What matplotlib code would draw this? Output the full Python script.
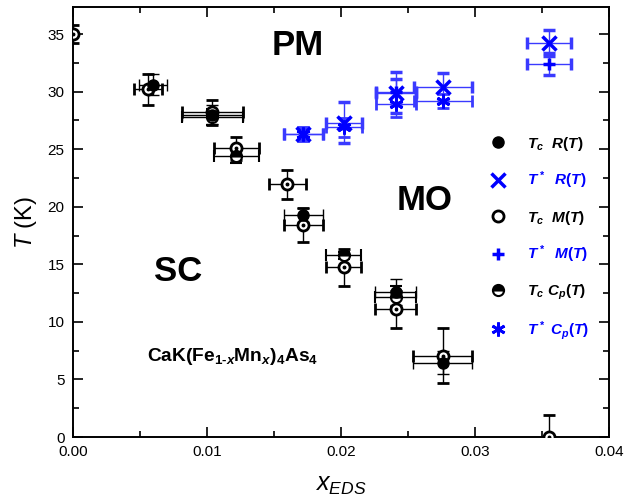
import matplotlib
matplotlib.use("Agg")
import matplotlib.pyplot as plt
from matplotlib.lines import Line2D
from matplotlib.ticker import MultipleLocator

plt.rcParams["font.family"] = "Liberation Sans"
plt.rcParams["mathtext.fontset"] = "custom"
plt.rcParams["mathtext.rm"] = "Liberation Sans:bold"
plt.rcParams["mathtext.bf"] = "Liberation Sans:bold"
plt.rcParams["mathtext.it"] = "Liberation Sans:bold:italic"
plt.rcParams["mathtext.sf"] = "Liberation Sans:italic"

# Tc from R(T) (filled circles)
tc_r_x = [0.00595, 0.0104, 0.0172, 0.0241, 0.0276]
tc_r_T = [30.6, 28.0, 19.3, 12.6, 6.45]
tc_r_xerr = [0.00105, 0.0023, 0.00144, 0.00153, 0.0022]
tc_r_Terr = [0.9, 0.8, 0.6, 1.1, 1.0]

# Tc from M(T) (open circles with dot)
tc_m_x = [0.0, 0.0056, 0.0104, 0.0122, 0.0160, 0.0172, 0.0202, 0.0241, 0.0276, 0.0355]
tc_m_T = [35.0, 30.2, 28.2, 25.1, 21.95, 18.4, 14.75, 11.1, 7.06, 0.0]
tc_m_xerr = [0.0, 0.00105, 0.0023, 0.0017, 0.0014, 0.00144, 0.0013, 0.00153, 0.0022, 0.0]
tc_m_Terr = [0.8, 1.35, 1.1, 1.0, 1.25, 1.5, 1.6, 1.6, 2.4, 1.9]

# Tc from Cp(T) (half filled circles)
tc_c_x = [0.0104, 0.0122, 0.0202, 0.0241]
tc_c_T = [27.8, 24.4, 15.8, 12.2]
tc_c_xerr = [0.0023, 0.0017, 0.0013, 0.00153]
tc_c_Terr = [0.7, 0.6, 0.3, 0.9]

# T* from R(T) (crosses)
ts_r_x = [0.0172, 0.0202, 0.0241, 0.0276, 0.0355]
ts_r_T = [26.3, 27.3, 29.9, 30.4, 34.2]
ts_r_xerr = [0.00144, 0.00133, 0.0015, 0.00218, 0.00165]
ts_r_Terr = [0.5, 1.8, 1.8, 1.2, 1.15]

# T* from M(T) (plus)
ts_m_x = [0.0241, 0.0355]
ts_m_T = [30.0, 32.4]
ts_m_xerr = [0.0015, 0.00165]
ts_m_Terr = [1.1, 0.95]

# T* from Cp(T) (asterisks)
ts_c_x = [0.0172, 0.0202, 0.0241, 0.0276]
ts_c_T = [26.3, 26.9, 28.9, 29.2]
ts_c_xerr = [0.00144, 0.00133, 0.0015, 0.00218]
ts_c_Terr = [0.6, 0.8, 1.1, 0.6]

BLUE = "#0000ff"
EB_BLUE = "#3a3aff"

fig = plt.figure(figsize=(6.37, 5.03), dpi=100)
ax = fig.add_axes([0.1146, 0.1312, 0.8415, 0.8549])

eb_kw = dict(linestyle="none", elinewidth=1.0, capsize=4, capthick=1.0)

ax.errorbar(tc_m_x, tc_m_T, xerr=tc_m_xerr, yerr=tc_m_Terr, marker="o", ms=8,
            mfc="white", mec="black", mew=2, ecolor="black", **eb_kw, zorder=3)
ax.plot(tc_m_x, tc_m_T, linestyle="none", marker="o", ms=1.8, color="black", zorder=4)
ax.errorbar(tc_c_x, tc_c_T, xerr=tc_c_xerr, yerr=tc_c_Terr, marker="o", ms=8,
            fillstyle="top", mfc="black", mfcalt="white", mec="black", mew=1.5,
            ecolor="black", **eb_kw, zorder=3)
ax.errorbar(tc_r_x, tc_r_T, xerr=tc_r_xerr, yerr=tc_r_Terr, marker="o", ms=8,
            mfc="black", mec="black", ecolor="black", **eb_kw, zorder=3)

ax.errorbar(ts_c_x, ts_c_T, xerr=ts_c_xerr, yerr=ts_c_Terr, marker=(6, 2, 0), ms=10,
            mec=BLUE, mew=2, ecolor=EB_BLUE, **eb_kw, zorder=3)
ax.errorbar(ts_m_x, ts_m_T, xerr=ts_m_xerr, yerr=ts_m_Terr, marker="+", ms=9,
            mec=BLUE, mew=2.5, ecolor=EB_BLUE, **eb_kw, zorder=3)
ax.errorbar(ts_r_x, ts_r_T, xerr=ts_r_xerr, yerr=ts_r_Terr, marker="x", ms=10,
            mec=BLUE, mew=2.5, ecolor=EB_BLUE, **eb_kw, zorder=3)

# region labels
ax.text(0.01679, 34.0, "PM", fontsize=25, fontweight="bold", ha="center", va="center")
ax.text(0.02627, 20.58, "MO", fontsize=25, fontweight="bold", ha="center", va="center")
ax.text(0.00786, 14.36, "SC", fontsize=25, fontweight="bold", ha="center", va="center")
ax.text(0.01194, 7.0, r"$\mathrm{CaK(Fe}_{1\text{-}x}\mathrm{Mn}_{x}\mathrm{)}_{4}\mathrm{As}_{4}$",
        fontsize=13.8, ha="center", va="center")

# legend
handles = [
    Line2D([], [], ls="none", marker="o", ms=8, mfc="black", mec="black"),
    Line2D([], [], ls="none", marker="x", ms=10, mec=BLUE, mew=2.5),
    Line2D([], [], ls="none", marker="o", ms=8, mfc="white", mec="black", mew=2),
    Line2D([], [], ls="none", marker="+", ms=9, mec=BLUE, mew=2.5),
    Line2D([], [], ls="none", marker="o", ms=8, fillstyle="top", mfc="black",
           mfcalt="white", mec="black", mew=1.5),
    Line2D([], [], ls="none", marker=(6, 2, 0), ms=10, mec=BLUE, mew=2),
]
labels = [r"$T_c\ \ R(T)$", r"$T^*\ \ R(T)$", r"$T_c\ \ M(T)$",
          r"$T^*\ \ M(T)$", r"$T_c\ C_p(T)$", r"$T^*\ C_p(T)$"]
leg = ax.legend(handles, labels, loc="upper left", bbox_to_anchor=(0.745, 0.735),
                frameon=False, fontsize=11, labelspacing=1.12, handlelength=1.5,
                handletextpad=1.2)
for i, t in enumerate(leg.get_texts()):
    t.set_color(BLUE if i % 2 == 1 else "black")

ax.set_xlim(0, 0.04)
ax.set_ylim(0, 37.35)
ax.xaxis.set_major_locator(MultipleLocator(0.01))
ax.xaxis.set_minor_locator(MultipleLocator(0.005))
ax.yaxis.set_major_locator(MultipleLocator(5))
ax.yaxis.set_minor_locator(MultipleLocator(2.5))
ax.set_xticks([0, 0.01, 0.02, 0.03, 0.04])
ax.set_xticklabels(["0.00", "0.01", "0.02", "0.03", "0.04"])
ax.tick_params(which="both", direction="in", top=True, right=True, labelsize=11, width=1.2)
ax.tick_params(which="major", length=7, pad=6)
ax.tick_params(which="minor", length=4)
for s in ax.spines.values():
    s.set_linewidth(1.4)

ax.set_ylabel(r"$\mathsf{T}$ (K)", fontsize=17, labelpad=6)
ax.set_xlabel(r"$\mathsf{x_{EDS}}$", fontsize=18, labelpad=10)

fig.savefig("out.png", dpi=100)
